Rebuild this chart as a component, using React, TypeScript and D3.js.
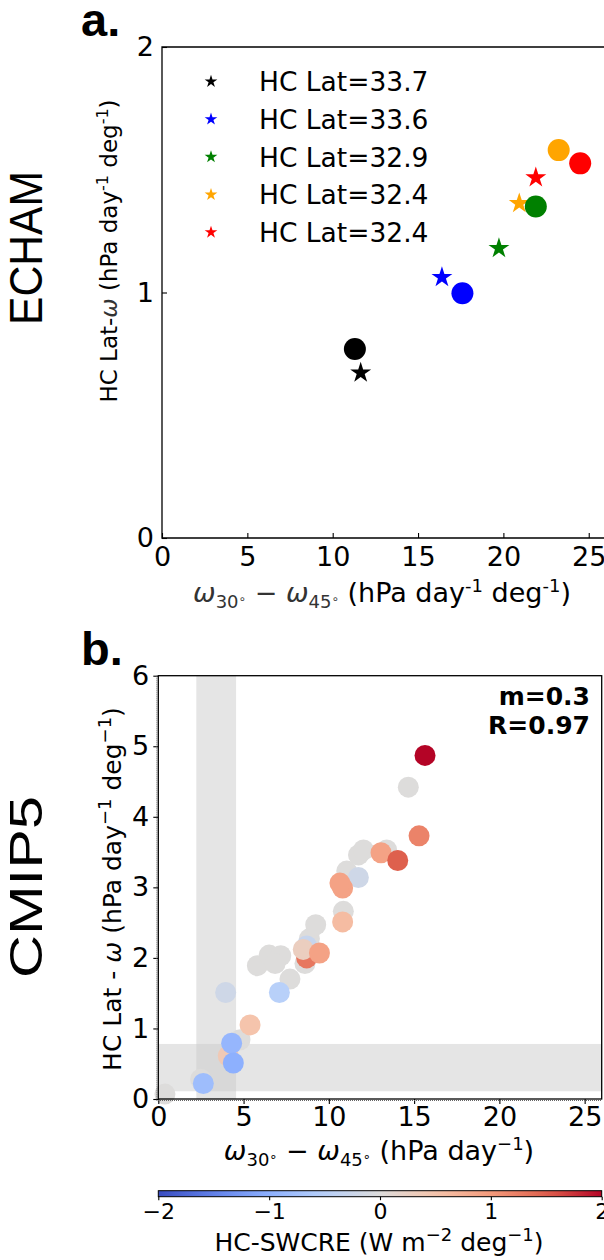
import React, { useEffect, useRef } from "react";
import * as d3 from "d3";

// panel a (ECHAM)
const echamLabels = ["HC Lat=33.7", "HC Lat=33.6", "HC Lat=32.9", "HC Lat=32.4", "HC Lat=32.4"];
const echamColors = ["black", "blue", "green", "orange", "red"];
const echamStarX = [11.64, 16.4, 19.74, 20.93, 21.9];
const echamStarY = [0.673, 1.062, 1.18, 1.363, 1.468];
const echamDotX = [11.3, 17.6, 21.9, 23.24, 24.5];
const echamDotY = [0.77, 0.997, 1.35, 1.58, 1.526];

// panel b (CMIP5)
const cmipX = [0.39, 2.48, 4.79, 5.81, 6.5, 7.18, 6.85, 7.72, 8.6, 8.86, 9.23, 10.85, 11.05, 11.74, 12.03, 13.39, 14.66,
  8.7, 8.7, 8.5, 9.45, 11.73, 10.81, 10.65, 10.81, 13.06, 14.04, 15.29, 15.64, 7.1, 3.95, 5.38, 4.1, 4.3, 4.4, 2.64];
const cmipY = [0.07, 0.28, 0.84, 1.89, 2.04, 2.03, 1.92, 1.7, 1.92, 2.27, 2.47, 2.66, 3.23, 3.46, 3.53, 3.53, 4.42,
  2.17, 2.0, 2.12, 2.07, 3.14, 2.99, 3.06, 2.51, 3.49, 3.38, 3.73, 4.87, 1.51, 1.51, 1.05, 0.61, 0.79, 0.51, 0.22];
const cmipSwcre = [0, 0, 0, 0, 0, 0, 0, 0, 0, 0, 0, 0, 0, 0, 0, 0, 0,
  -0.3, 1.3, 0.3, 0.9, -0.2, 0.9, 0.9, 0.6, 0.9, 1.5, 1.2, 2.0, -0.5, -0.2, 0.5, 0.4, -0.9, -1.0, -0.8];

const xTicks = [0, 5, 10, 15, 20, 25];
const yTicksA = [0, 1, 2];
const yTicksB = [0, 1, 2, 3, 4, 5, 6];
const cbarTicks = [-2, -1, 0, 1, 2];
const bandX = [2.23, 4.56];
const bandY = [0.11, 0.78];
const stats = ["m=0.3", "R=0.97"];

// matplotlib coolwarm
const coolwarmStops = ["#3a4cc0", "#6282ea", "#8db0fe", "#b8d0f9", "#dddcdb", "#f5c4ac", "#f49a7b", "#de604d", "#b40426"];

const FONT = "DejaVu Sans, sans-serif";
const ARIAL = "Liberation Sans, Arial, sans-serif";

const App = () => {
  const svgRef = useRef<SVGSVGElement>(null);

  useEffect(() => {
    const svg = d3.select(svgRef.current);
    const g = svg.select("g.plots");
    g.selectAll("*").remove();

    const styleAxis = (ax, size) => {
      ax.selectAll("text").attr("font-family", FONT).attr("font-size", size).attr("fill", "black");
      ax.selectAll("line").attr("stroke", "black").attr("stroke-width", 1.1);
      ax.select(".domain").remove();
    };

    // ---------- panel a ----------
    const xA = d3.scaleLinear().domain([0, 26]).range([162, 605.8]);
    const yA = d3.scaleLinear().domain([0, 2]).range([538, 47]);

    const axA = g.append("g").attr("transform", "translate(0,538)")
      .call(d3.axisBottom(xA).tickValues(xTicks).tickSize(-5).tickPadding(9).tickFormat(d3.format("d")));
    styleAxis(axA, 27);
    const ayA = g.append("g").attr("transform", "translate(162,0)")
      .call(d3.axisLeft(yA).tickValues(yTicksA).tickSize(-5).tickPadding(8).tickFormat(d3.format("d")));
    styleAxis(ayA, 27);

    g.append("path")
      .attr("d", `M604,${yA(2)}H${xA(0)}V${yA(0)}H604`)
      .attr("fill", "none").attr("stroke", "black").attr("stroke-width", 1.3);

    const star = (s) => d3.symbol(d3.symbolStar, s)();

    g.append("g").selectAll("path").data(echamStarX).join("path")
      .attr("d", star(136))
      .attr("transform", (d, i) => `translate(${xA(d)},${yA(echamStarY[i])})`)
      .attr("fill", (d, i) => echamColors[i]);
    g.append("g").selectAll("circle").data(echamDotX).join("circle")
      .attr("cx", (d) => xA(d))
      .attr("cy", (d, i) => yA(echamDotY[i]))
      .attr("r", 11)
      .attr("fill", (d, i) => echamColors[i]);

    const leg = g.append("g").selectAll("g").data(echamLabels).join("g")
      .attr("transform", (d, i) => `translate(211,${81.5 + 37.7 * i})`);
    leg.append("path").attr("d", star(50)).attr("fill", (d, i) => echamColors[i]);
    leg.append("text").attr("x", 48).attr("y", 9.7)
      .attr("font-family", FONT).attr("font-size", 26.5).text((d) => d);

    // ---------- panel b ----------
    const xB = d3.scaleLinear().domain([0, 26]).range([158.3, 601.7]);
    const yB = d3.scaleLinear().domain([0, 6]).range([1099, 675.7]);
    const color = d3.scaleSequential(d3.piecewise(d3.interpolateRgb, coolwarmStops)).domain([-2, 2]);

    g.append("rect")
      .attr("x", xB(bandX[0])).attr("width", xB(bandX[1]) - xB(bandX[0]))
      .attr("y", yB(6)).attr("height", yB(0) - yB(6))
      .attr("fill", "#cbcbcb").attr("fill-opacity", 0.5);
    g.append("rect")
      .attr("x", xB(0)).attr("width", xB(26) - xB(0))
      .attr("y", yB(bandY[1])).attr("height", yB(bandY[0]) - yB(bandY[1]))
      .attr("fill", "#cbcbcb").attr("fill-opacity", 0.5);

    g.append("g").selectAll("circle").data(cmipX).join("circle")
      .attr("cx", (d) => xB(d))
      .attr("cy", (d, i) => yB(cmipY[i]))
      .attr("r", 10.5)
      .attr("fill", (d, i) => color(cmipSwcre[i]));

    const axB = g.append("g").attr("transform", "translate(0,1099)")
      .call(d3.axisBottom(xB).tickValues(xTicks).tickSize(5).tickPadding(3).tickFormat(d3.format("d")));
    styleAxis(axB, 27);
    const ayB = g.append("g").attr("transform", "translate(158.3,0)")
      .call(d3.axisLeft(yB).tickValues(yTicksB).tickSize(5).tickPadding(4).tickFormat(d3.format("d")));
    styleAxis(ayB, 27);

    // faint dotted minor-tick rows outside the spines
    g.append("path")
      .attr("d", `M156.8,${yB(6)}V${yB(0) + 1.5}H${xB(26)}`)
      .attr("fill", "none").attr("stroke", "#666").attr("stroke-width", 1).attr("stroke-dasharray", "1,1");
    g.append("rect")
      .attr("x", xB(0)).attr("y", yB(6)).attr("width", xB(26) - xB(0)).attr("height", yB(0) - yB(6))
      .attr("fill", "none").attr("stroke", "black").attr("stroke-width", 1.3);

    g.append("g").selectAll("text").data(stats).join("text")
      .attr("x", 590).attr("y", (d, i) => 705 + 29 * i)
      .attr("text-anchor", "end").attr("font-family", FONT).attr("font-weight", "bold")
      .attr("font-size", 25).text((d) => d);

    // ---------- colorbar ----------
    const cx = d3.scaleLinear().domain([-2, 2]).range([158.3, 601.7]);
    const defs = g.append("defs");
    const grad = defs.append("linearGradient").attr("id", "cw").attr("x1", "0").attr("x2", "1").attr("y1", "0").attr("y2", "0");
    d3.range(0, 1.0001, 0.05).forEach((t) => {
      grad.append("stop").attr("offset", t).attr("stop-color", color(-2 + 4 * t));
    });
    g.append("rect").attr("x", cx(-2)).attr("y", 1190.7).attr("width", cx(2) - cx(-2)).attr("height", 6)
      .attr("fill", "url(#cw)").attr("stroke", "black").attr("stroke-width", 1);
    const axC = g.append("g").attr("transform", "translate(0,1196.7)")
      .call(d3.axisBottom(cx).tickValues(cbarTicks).tickSize(3.5).tickPadding(3).tickFormat(d3.format("d")));
    styleAxis(axC, 22);
  }, []);

  const sub = 18;
  return (
    <svg ref={svgRef} width={604} height={1260}
      style={{ position: "absolute", left: 0, top: 0, background: "white", whiteSpace: "pre" }}
      fontFamily={FONT}>
      <rect width={604} height={1260} fill="white" />
      <g className="plots" />

      <text x={81} y={36} fontFamily={ARIAL} fontWeight="bold" fontSize={47}>a.</text>
      <text x={81} y={665} fontFamily={ARIAL} fontWeight="bold" fontSize={47}>b.</text>

      <text transform="translate(42,248) rotate(-90)" textAnchor="middle" fontFamily={ARIAL}
        fontSize={46} textLength={154} lengthAdjust="spacingAndGlyphs">ECHAM</text>
      <text transform="translate(42,887) rotate(-90)" textAnchor="middle" fontFamily={ARIAL}
        fontSize={46} textLength={182} lengthAdjust="spacingAndGlyphs">CMIP5</text>

      {/* panel a labels */}
      <text transform="translate(117,251) rotate(-90)" textAnchor="middle" fontSize={23}>
        <tspan>HC Lat-</tspan>
        <tspan fontStyle="italic" fill="#333">ω</tspan>
        <tspan> (hPa day</tspan>
        <tspan fontSize={16} dy={-9}>-1</tspan>
        <tspan dy={9}> deg</tspan>
        <tspan fontSize={16} dy={-9}>-1</tspan>
        <tspan dy={9}>)</tspan>
      </text>
      <text x={382} y={602} textAnchor="middle" fontSize={27}>
        <tspan fontStyle="italic" fill="#333">ω</tspan>
        <tspan fontSize={sub} dy={6} fill="#333">30</tspan>
        <tspan fontSize={12} dy={-5} fill="#333">∘</tspan>
        <tspan dy={-1} fill="#333"> − </tspan>
        <tspan fontStyle="italic" fill="#333">ω</tspan>
        <tspan fontSize={sub} dy={6} fill="#333">45</tspan>
        <tspan fontSize={12} dy={-5} fill="#333">∘</tspan>
        <tspan dy={-1}> (hPa day</tspan>
        <tspan fontSize={sub} dy={-10}>-1</tspan>
        <tspan dy={10}> deg</tspan>
        <tspan fontSize={sub} dy={-10}>-1</tspan>
        <tspan dy={10}>)</tspan>
      </text>

      {/* panel b labels */}
      <text transform="translate(121,889) rotate(-90)" textAnchor="middle" fontSize={25}>
        <tspan>HC Lat - </tspan>
        <tspan fontStyle="italic">ω</tspan>
        <tspan> (hPa day</tspan>
        <tspan fontSize={sub} dy={-10}>−1</tspan>
        <tspan dy={10}> deg</tspan>
        <tspan fontSize={sub} dy={-10}>−1</tspan>
        <tspan dy={10}>)</tspan>
      </text>
      <text x={379} y={1160} textAnchor="middle" fontSize={27}>
        <tspan fontStyle="italic">ω</tspan>
        <tspan fontSize={sub} dy={6}>30</tspan>
        <tspan fontSize={13} dy={-5}>∘</tspan>
        <tspan dy={-1}> − </tspan>
        <tspan fontStyle="italic">ω</tspan>
        <tspan fontSize={sub} dy={6}>45</tspan>
        <tspan fontSize={13} dy={-5}>∘</tspan>
        <tspan dy={-1}> (hPa day</tspan>
        <tspan fontSize={sub} dy={-10}>−1</tspan>
        <tspan dy={10}>)</tspan>
      </text>
      <text x={379} y={1251} textAnchor="middle" fontSize={25}>
        <tspan>HC-SWCRE (W m</tspan>
        <tspan fontSize={sub} dy={-10}>−2</tspan>
        <tspan dy={10}> deg</tspan>
        <tspan fontSize={sub} dy={-10}>−1</tspan>
        <tspan dy={10}>)</tspan>
      </text>
    </svg>
  );
};

export default App;
